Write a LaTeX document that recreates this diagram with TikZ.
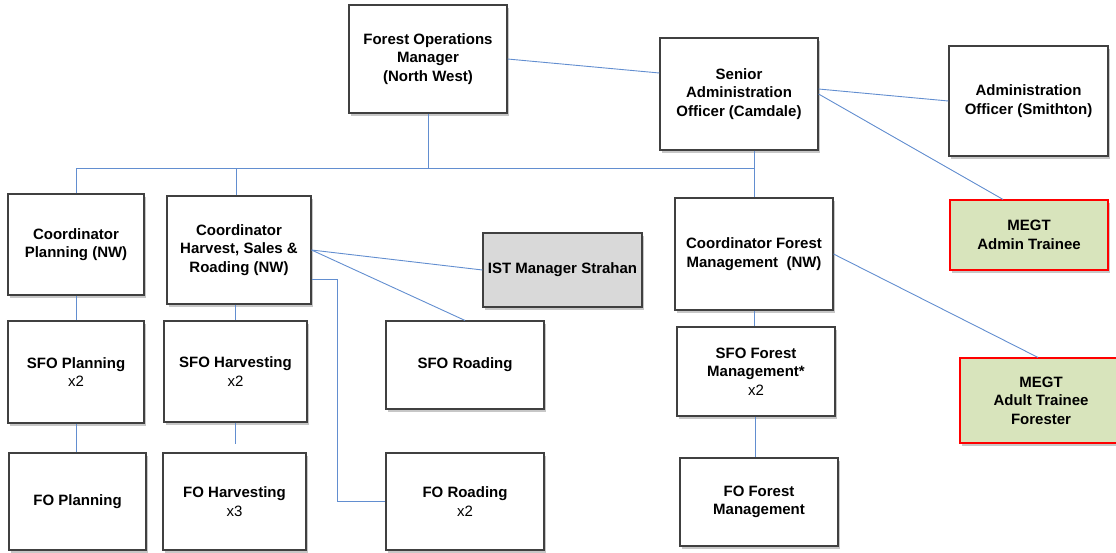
\documentclass[tikz,border=0pt]{standalone}
\usepackage{fontspec}
\setmainfont{Liberation Sans}
\usetikzlibrary{shadows}
\definecolor{linkblue}{RGB}{98,142,208}
\definecolor{boxgrey}{RGB}{64,64,64}
\definecolor{megtgreen}{RGB}{216,228,188}
\definecolor{istgrey}{RGB}{217,217,217}
\begin{document}
\begin{tikzpicture}[x=1pt,y=-1pt,
  post/.style={draw=boxgrey, line width=1.1pt, fill=white, align=center, inner sep=0pt,
    font=\bfseries\fontsize{15}{18.5}\selectfont,
    drop shadow={shadow xshift=2pt, shadow yshift=-2.5pt, fill=black, opacity=0.22}},
  trainee/.style={post, draw=red, fill=megtgreen},
  link/.style={draw=linkblue, line width=0.9pt}]

\useasboundingbox (0,0) rectangle (1116,552);

% top row
\node [post, minimum width=158, minimum height=108] (fom) at (428,59) {Forest Operations\\Manager\\(North West)};
\node [post, minimum width=158, minimum height=112] (sao) at (739,94) {Senior\\Administration\\Officer (Camdale)};
\node [post, minimum width=159, minimum height=110] (aos) at (1028.5,101) {Administration\\Officer (Smithton)};
\node [trainee, minimum width=158, minimum height=70] (megta) at (1029,235) {MEGT\\Admin Trainee};

% coordinators
\node [post, minimum width=136, minimum height=101] (cpl) at (76,244.5) {Coordinator\\Planning (NW)};
\node [post, minimum width=144, minimum height=108] (chr) at (239,250) {Coordinator\\Harvest, Sales \&\\Roading (NW)};
\node [post, fill=istgrey, minimum width=159, minimum height=74] (ist) at (562.5,270) {IST Manager Strahan};
\node [post, minimum width=158, minimum height=112] (cfm) at (754,254) {Coordinator Forest\\Management~ (NW)};
\node [trainee, minimum width=162, minimum height=85] (megtf) at (1041,400.5) {MEGT\\Adult Trainee\\Forester};

% SFO row
\node [post, minimum width=136, minimum height=102] (sfopl) at (76,372) {SFO Planning\\\textmd{x2}};
\node [post, minimum width=143, minimum height=101] (sfoh) at (235.5,371.5) {SFO Harvesting\\\textmd{x2}};
\node [post, minimum width=158, minimum height=88] (sfor) at (465,365) {SFO Roading};
\node [post, minimum width=158, minimum height=89] (sfofm) at (756,371.5) {SFO Forest\\Management*\\\textmd{x2}};

% FO row
\node [post, minimum width=137, minimum height=97] (fopl) at (77.5,501.5) {FO Planning};
\node [post, minimum width=143, minimum height=97] (foh) at (234.5,501.5) {FO Harvesting\\\textmd{x3}};
\node [post, minimum width=158, minimum height=97] (fordg) at (465,501.5) {FO Roading\\\textmd{x2}};
\node [post, minimum width=158, minimum height=88] (fofm) at (759,502) {FO Forest\\Management};

\coordinate (bar) at (0,168);

\draw [link] (fom.south) -- (fom.south |- bar);
\draw [link] (cpl.north) -- (cpl.north |- bar) -- (cfm.north |- bar) -- (cfm.north);
\draw [link] ([xshift=-3pt]chr.north) -- ([xshift=-3pt]chr.north |- bar);
\draw [link] (cfm.north |- sao.south) -- (cfm.north |- bar);
\draw [link] (fom.east) -- ([yshift=21pt]sao.west);
\draw [link] ([yshift=5pt]sao.east) -- (aos.west);
\draw [link] (sao.east) -- ([xshift=-26pt]megta.north);
\draw [link] (chr.east) -- (ist.west);
\draw [link] (chr.east) -- (sfor.north);
\draw [link] ([yshift=-29pt]chr.east) -| ([xshift=-48pt]fordg.west) -- (fordg.west);
\draw [link] (cfm.east) -- ([xshift=-3pt]megtf.north);
\draw [link] (cpl.south) -- (cpl.south |- sfopl.north);
\draw [link] (sfopl.south) -- (sfopl.south |- fopl.north);
\draw [link] (sfoh.north |- chr.south) -- (sfoh.north);
\draw [link] (sfoh.south) -- ([yshift=8pt]sfoh.south |- foh.north);
\draw [link] (cfm.south) -- (cfm.south |- sfofm.north);
\draw [link] ([xshift=-1pt]sfofm.south) -- ([xshift=-1pt]sfofm.south |- fofm.north);

\end{tikzpicture}
\end{document}
